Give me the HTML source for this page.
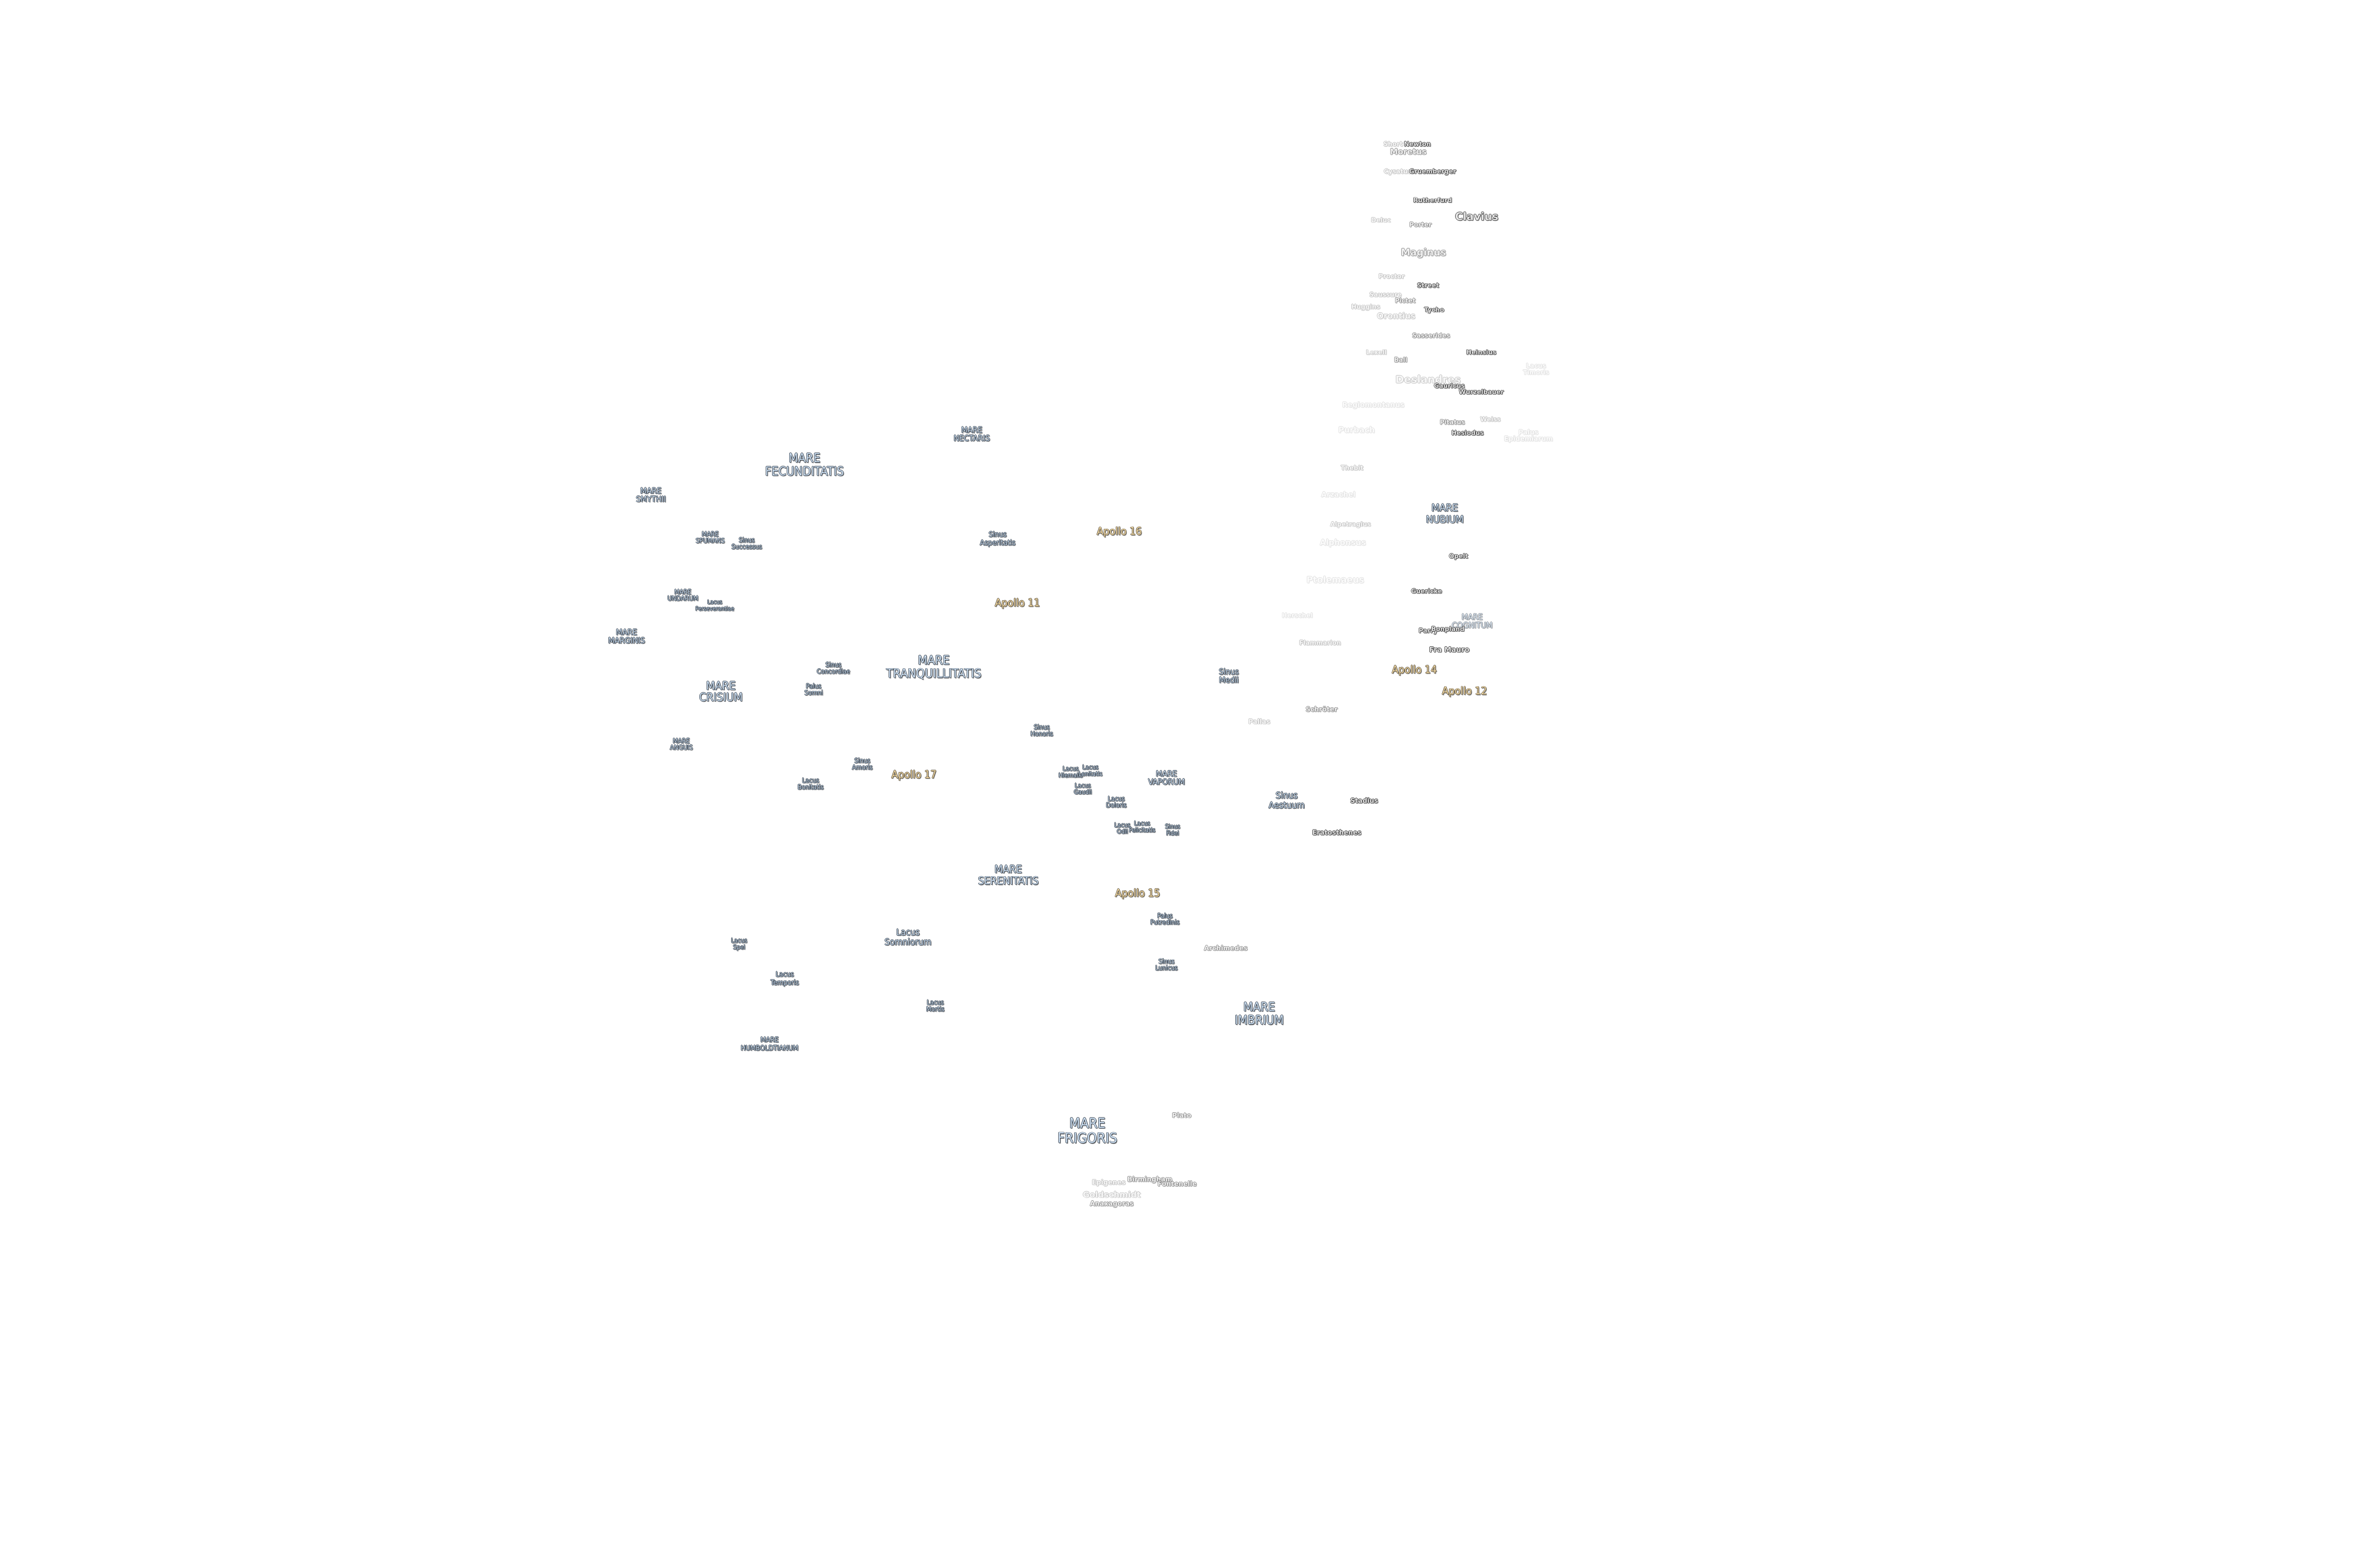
<!DOCTYPE html>
<html><head><meta charset="utf-8"><style>
html,body{margin:0;padding:0;background:#fff;width:5760px;height:3240px;overflow:hidden}
#w{position:absolute;left:0;top:0;width:1803px;height:1014px;transform:scale(3.195);transform-origin:0 0}
.l{position:absolute;transform:translate(-50%,-50%) scale(1.08);white-space:nowrap;text-align:center;line-height:1.05;font-family:"DejaVu Sans Condensed","DejaVu Sans","Liberation Sans",sans-serif}
.m{color:#cfe1f3;text-shadow:-.28px 0 #2a3440,.28px 0 #2a3440,0 -.28px #2a3440,0 .28px #2a3440,.45px .45px .3px #666}
.a{color:#f3dba6;text-shadow:-.28px 0 #4a4030,.28px 0 #4a4030,0 -.28px #4a4030,0 .28px #4a4030,.45px .45px .3px #777}
.c{font-family:"DejaVu Sans","Liberation Sans",sans-serif;font-weight:bold;color:#e6e6e6;text-shadow:-.28px 0 #333,.28px 0 #333,0 -.28px #333,0 .28px #333,.4px .4px .3px #888}
.f{opacity:.6}.ff{opacity:.32}.fff{opacity:.16}
</style></head><body><div id="w">
<div class="l m" style="left:529px;top:306px;font-size:7.5px">MARE<br>FECUNDITATIS</div>
<div class="l m" style="left:639px;top:287px;font-size:5px">MARE<br>NECTARIS</div>
<div class="l m" style="left:428px;top:327px;font-size:5px">MARE<br>SMYTHII</div>
<div class="l m" style="left:467px;top:354px;font-size:4px">MARE<br>SPUMANS</div>
<div class="l m" style="left:491px;top:358px;font-size:4px">Sinus<br>Successus</div>
<div class="l m" style="left:449px;top:392px;font-size:4px">MARE<br>UNDARUM</div>
<div class="l m" style="left:470px;top:399px;font-size:3.5px">Lacus<br>Perseverantiae</div>
<div class="l m" style="left:412px;top:420px;font-size:5px">MARE<br>MARGINIS</div>
<div class="l m" style="left:474px;top:456px;font-size:7px">MARE<br>CRISIUM</div>
<div class="l m" style="left:448px;top:490px;font-size:4px">MARE<br>ANGUIS</div>
<div class="l m" style="left:548px;top:440px;font-size:4px">Sinus<br>Concordiae</div>
<div class="l m" style="left:535px;top:454px;font-size:4px">Palus<br>Somni</div>
<div class="l m" style="left:614px;top:439px;font-size:7.5px">MARE<br>TRANQUILLITATIS</div>
<div class="l m" style="left:656px;top:356px;font-size:4.5px">Sinus<br>Asperitatis</div>
<div class="l a" style="left:736px;top:350px;font-size:6.5px">Apollo 16</div>
<div class="l a" style="left:669px;top:397px;font-size:6.5px">Apollo 11</div>
<div class="l a" style="left:601px;top:510px;font-size:6.5px">Apollo 17</div>
<div class="l a" style="left:748px;top:588px;font-size:6.5px">Apollo 15</div>
<div class="l a" style="left:930px;top:441px;font-size:6.5px">Apollo 14</div>
<div class="l a" style="left:963px;top:455px;font-size:6.5px">Apollo 12</div>
<div class="l m" style="left:567px;top:503px;font-size:4px">Sinus<br>Amoris</div>
<div class="l m" style="left:533px;top:516px;font-size:4px">Lacus<br>Bonitatis</div>
<div class="l m" style="left:685px;top:481px;font-size:4px">Sinus<br>Honoris</div>
<div class="l m" style="left:704px;top:508px;font-size:3.8px">Lacus<br>Hiemalis</div>
<div class="l m" style="left:717px;top:507px;font-size:3.8px">Lacus<br>Lenitatis</div>
<div class="l m" style="left:712px;top:519px;font-size:3.8px">Lacus<br>Gaudii</div>
<div class="l m" style="left:734px;top:528px;font-size:4px">Lacus<br>Doloris</div>
<div class="l m" style="left:767px;top:513px;font-size:5px">MARE<br>VAPORUM</div>
<div class="l m" style="left:738px;top:545px;font-size:3.8px">Lacus<br>Odii</div>
<div class="l m" style="left:751px;top:544px;font-size:3.8px">Lacus<br>Felicitatis</div>
<div class="l m" style="left:771px;top:546px;font-size:3.8px">Sinus<br>Fidei</div>
<div class="l m" style="left:808px;top:446px;font-size:5px">Sinus<br>Medii</div>
<div class="l m" style="left:846px;top:528px;font-size:5.5px">Sinus<br>Aestuum</div>
<div class="l c" style="left:897px;top:527px;font-size:4px">Stadius</div>
<div class="l c" style="left:879px;top:548px;font-size:4px">Eratosthenes</div>
<div class="l c f" style="left:869px;top:467px;font-size:4px">Schröter</div>
<div class="l c ff" style="left:828px;top:475px;font-size:4px">Pallas</div>
<div class="l m" style="left:663px;top:576px;font-size:6.5px">MARE<br>SERENITATIS</div>
<div class="l m" style="left:766px;top:605px;font-size:4px">Palus<br>Putredinis</div>
<div class="l c f" style="left:806px;top:624px;font-size:4px">Archimedes</div>
<div class="l m" style="left:767px;top:635px;font-size:4px">Sinus<br>Lunicus</div>
<div class="l m" style="left:597px;top:618px;font-size:5.5px">Lacus<br>Somniorum</div>
<div class="l m" style="left:486px;top:621px;font-size:3.8px">Lacus<br>Spei</div>
<div class="l m" style="left:516px;top:645px;font-size:4.3px">Lacus<br>Temporis</div>
<div class="l m" style="left:615px;top:662px;font-size:4px">Lacus<br>Mortis</div>
<div class="l m" style="left:506px;top:688px;font-size:4.3px">MARE<br>HUMBOLDTIANUM</div>
<div class="l m" style="left:828px;top:667px;font-size:7.5px">MARE<br>IMBRIUM</div>
<div class="l m" style="left:715px;top:745px;font-size:8.5px">MARE<br>FRIGORIS</div>
<div class="l c f" style="left:777px;top:734px;font-size:4px">Plato</div>
<div class="l c ff" style="left:729px;top:778px;font-size:4px">Epigenes</div>
<div class="l c f" style="left:756px;top:776px;font-size:4px">Birmingham</div>
<div class="l c f" style="left:774px;top:779px;font-size:4px">Fontenelle</div>
<div class="l c ff" style="left:731px;top:787px;font-size:5px">Goldschmidt</div>
<div class="l c f" style="left:731px;top:792px;font-size:4px">Anaxagoras</div>

<div class="l c ff" style="left:916px;top:95px;font-size:3.8px">Short</div>
<div class="l c" style="left:932px;top:95px;font-size:3.8px">Newton</div>
<div class="l c f" style="left:926px;top:101px;font-size:4.8px">Moretus</div>
<div class="l c ff" style="left:919px;top:113px;font-size:3.8px">Cysatus</div>
<div class="l c" style="left:942px;top:113px;font-size:3.8px">Gruemberger</div>
<div class="l c" style="left:942px;top:132px;font-size:3.8px">Rutherfurd</div>
<div class="l c" style="left:971px;top:143px;font-size:6.5px">Clavius</div>
<div class="l c ff" style="left:908px;top:145px;font-size:3.8px">Deluc</div>
<div class="l c f" style="left:934px;top:148px;font-size:3.8px">Porter</div>
<div class="l c f" style="left:936px;top:167px;font-size:5.8px">Maginus</div>
<div class="l c ff" style="left:915px;top:182px;font-size:3.8px">Proctor</div>
<div class="l c" style="left:939px;top:188px;font-size:3.8px">Street</div>
<div class="l c ff" style="left:911px;top:194px;font-size:3.8px">Saussure</div>
<div class="l c f" style="left:924px;top:198px;font-size:3.8px">Pictet</div>
<div class="l c ff" style="left:898px;top:202px;font-size:3.8px">Huggins</div>
<div class="l c ff" style="left:918px;top:209px;font-size:4.8px">Orontius</div>
<div class="l c" style="left:943px;top:204px;font-size:3.8px">Tycho</div>
<div class="l c f" style="left:941px;top:221px;font-size:3.8px">Sasserides</div>
<div class="l c" style="left:974px;top:232px;font-size:3.8px">Heinsius</div>
<div class="l c ff" style="left:905px;top:232px;font-size:3.8px">Lexell</div>
<div class="l c f" style="left:921px;top:237px;font-size:3.8px">Ball</div>
<div class="l c ff" style="left:939px;top:251px;font-size:6.3px">Deslandres</div>
<div class="l c" style="left:953px;top:254px;font-size:3.8px">Gauricus</div>
<div class="l c" style="left:974px;top:258px;font-size:3.8px">Wurzelbauer</div>
<div class="l c fff" style="left:1010px;top:243px;font-size:3.8px">Lacus<br>Timoris</div>
<div class="l c fff" style="left:903px;top:268px;font-size:4.3px">Regiomontanus</div>
<div class="l c f" style="left:955px;top:278px;font-size:3.8px">Pitatus</div>
<div class="l c ff" style="left:980px;top:276px;font-size:3.8px">Weiss</div>
<div class="l c" style="left:965px;top:285px;font-size:3.8px">Hesiodus</div>
<div class="l c fff" style="left:1005px;top:287px;font-size:4px">Palus<br>Epidemiarum</div>
<div class="l c fff" style="left:892px;top:284px;font-size:4.8px">Purbach</div>
<div class="l c ff" style="left:889px;top:308px;font-size:3.8px">Thebit</div>
<div class="l c fff" style="left:880px;top:327px;font-size:4.3px">Arzachel</div>
<div class="l m" style="left:950px;top:339px;font-size:6.3px">MARE<br>NUBIUM</div>
<div class="l c ff" style="left:888px;top:345px;font-size:3.8px">Alpetragius</div>
<div class="l c fff" style="left:883px;top:358px;font-size:4.8px">Alphonsus</div>
<div class="l c" style="left:959px;top:366px;font-size:3.8px">Opelt</div>
<div class="l c fff" style="left:878px;top:383px;font-size:5.3px">Ptolemaeus</div>
<div class="l c" style="left:938px;top:389px;font-size:3.8px">Guericke</div>
<div class="l c fff" style="left:853px;top:405px;font-size:3.8px">Herschel</div>
<div class="l m f" style="left:968px;top:410px;font-size:5px">MARE<br>COGNITUM</div>
<div class="l c" style="left:939px;top:415px;font-size:3.8px">Parry</div>
<div class="l c" style="left:952px;top:414px;font-size:3.8px">Bonpland</div>
<div class="l c ff" style="left:868px;top:423px;font-size:3.8px">Flammarion</div>
<div class="l c" style="left:953px;top:429px;font-size:4.3px">Fra Mauro</div>
</div></body></html>
